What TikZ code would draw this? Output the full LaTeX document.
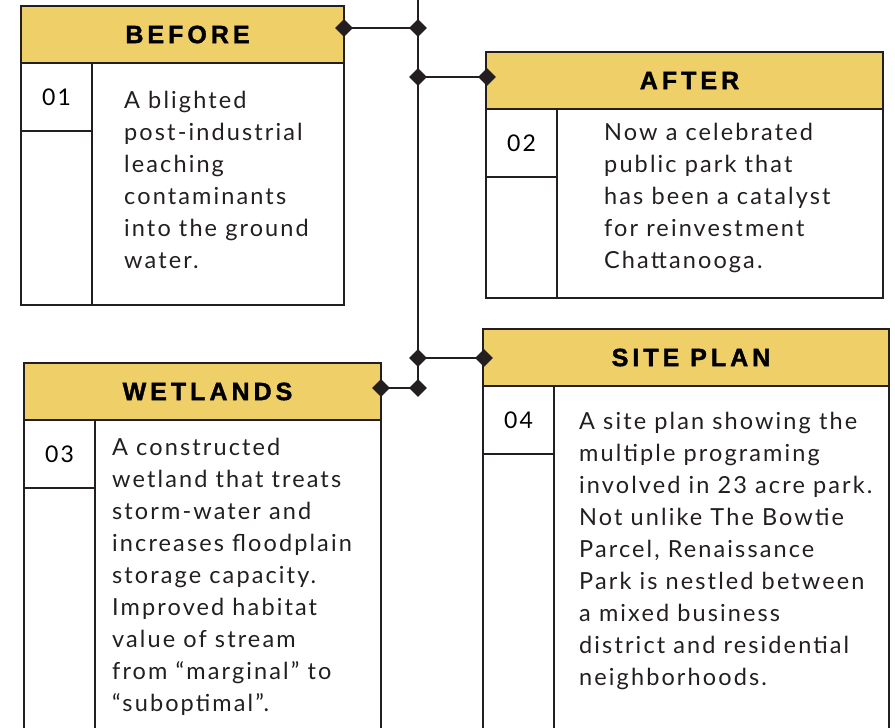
\documentclass[tikz,border=0pt]{standalone}
\usepackage{fontspec}
\setmainfont{Lato}[LetterSpace=9]
\newfontfamily\titlefont[LetterSpace=16, BoldFeatures={FakeBold=1.5}]{Liberation Sans}
\newfontfamily\numfont[LetterSpace=10]{Lato}
\usetikzlibrary{shapes.geometric}
\definecolor{gold}{RGB}{239,207,104}
\definecolor{ink}{RGB}{35,31,32}
\tikzset{
    panel/.style={draw=ink, line width=2.6pt, anchor=north west, inner sep=0pt, outer sep=0pt},
    head/.style={panel, fill=gold, minimum height=57pt, font=\titlefont\bfseries\fontsize{25}{25}\selectfont},
    numcell/.style={panel, minimum width=71pt, minimum height=68pt, font=\numfont\fontsize{23}{23}\selectfont},
    blurb/.style={anchor=north west, inner sep=0pt, align=left, text=ink, font=\fontsize{23.5}{32}\selectfont},
    knot/.style={diamond, fill=ink, inner sep=0pt, minimum size=18pt},
    link/.style={draw=ink, line width=2.6pt}
}
\begin{document}
\begin{tikzpicture}[x=1pt, y=-1pt]
    \useasboundingbox (0,0) rectangle (895,728);
    \clip (0,0) rectangle (895,728);
    \foreach \p/\x/\y/\w/\h/\t/\n in {before/21/6/323/299/BEFORE/01, after/486/52/397/246/AFTER/02, wetlands/24/363/357/420/WETLANDS/03, site/483/329/406/460/SITE PLAN/04} {
            \node at (\x,\y) [panel, minimum width=\w, minimum height=\h] (\p) {};
            \node at (\x,\y) [head, minimum width=\w] (\p-head) {\hspace*{10pt}\t};
            \node at (\p-head.south west) [numcell] (\p-num) {\n};
            \draw[link] (\p-num.north east) -- (\p-num.north east |- \p.south);
        }
    \coordinate (top) at (418,0);
    \node at (344,28) [knot] (k1) {};
    \node at (418,28) [knot] (m1) {};
    \node at (418,77) [knot] (m2) {};
    \node at (487,77) [knot] (k2) {};
    \node at (418,358) [knot] (m3) {};
    \node at (484,358) [knot] (k4) {};
    \node at (418,388) [knot] (m4) {};
    \node at (381,388) [knot] (k3) {};
    \draw[link] (top) -- (m4.center);
    \draw[link] (k1.center) -- (m1.center);
    \draw[link] (m2.center) -- (k2.center);
    \draw[link] (m3.center) -- (k4.center);
    \draw[link] (m4.center) -- (k3.center);
    \node at (124,91) [blurb] (before-text) {A blighted\\post-industrial\\leaching\\contaminants\\into the ground\\water.};
    \node at (604,123) [blurb] (after-text) {Now a celebrated\\public park that\\has been a catalyst\\for reinvestment\\Chattanooga.};
    \node at (112,438) [blurb] (wetlands-text) {A constructed\\wetland that treats\\storm-water and\\increases floodplain\\storage capacity.\\Improved habitat\\value of stream\\from “marginal” to\\“suboptimal”.};
    \node at (579,412) [blurb] (site-text) {A site plan showing the\\multiple programing\\involved in 23 acre park.\\Not unlike The Bowtie\\Parcel, Renaissance\\Park is nestled between\\a mixed business\\district and residential\\neighborhoods.};
\end{tikzpicture}
\end{document}
